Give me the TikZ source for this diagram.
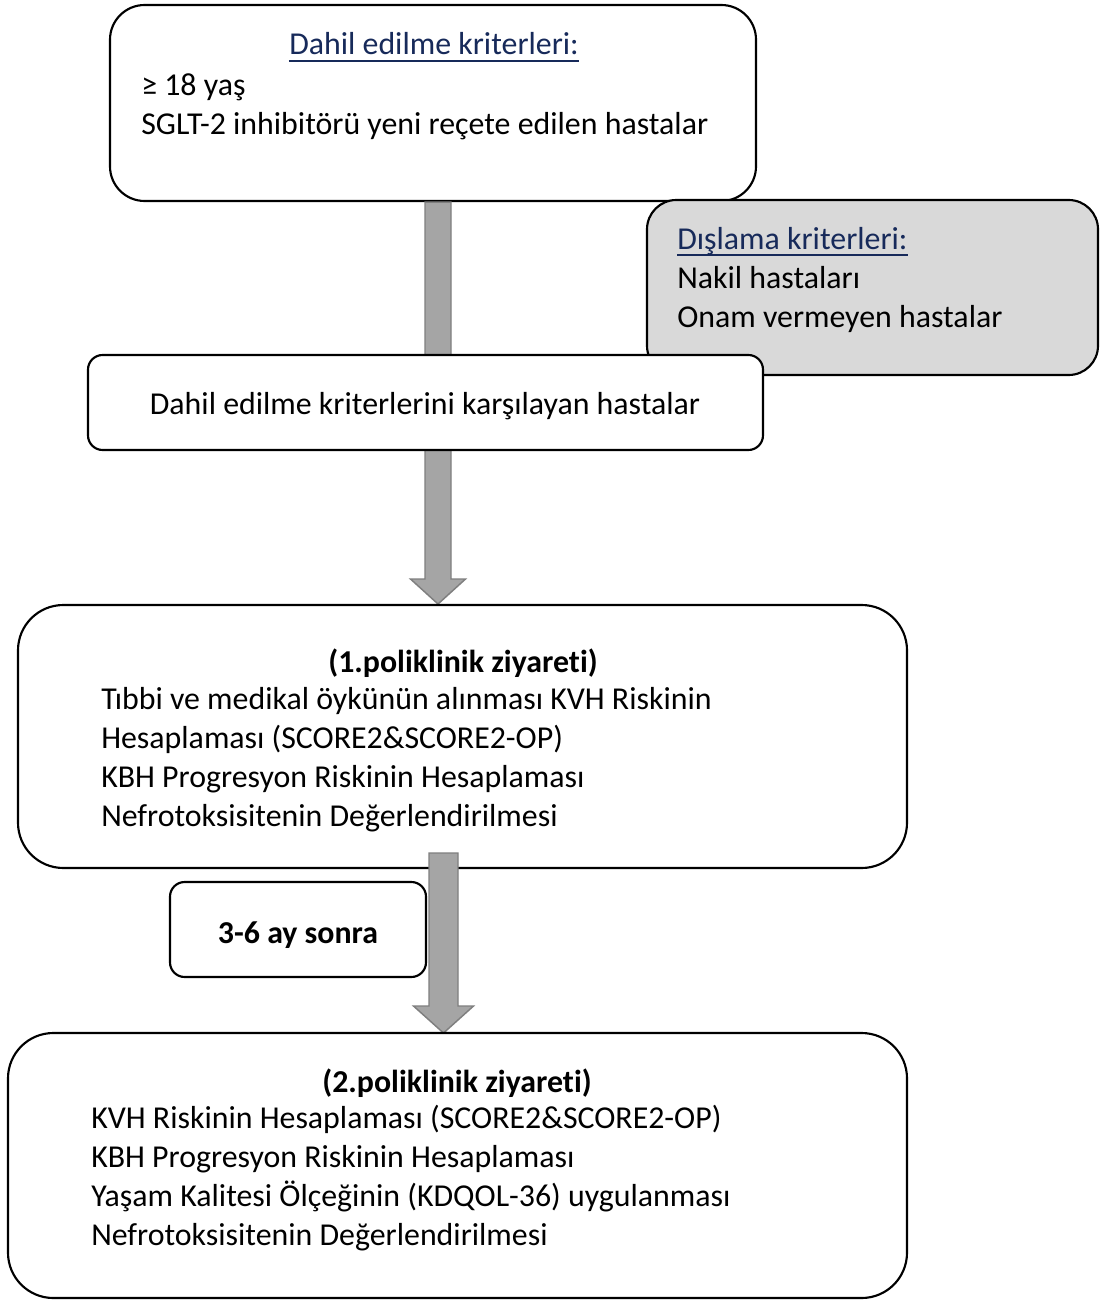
\documentclass[tikz,border=0pt]{standalone}
\usepackage{fontspec}
\setmainfont{Carlito}[Ligatures=NoCommon]
\usetikzlibrary{calc}
\definecolor{navy}{HTML}{172A5A}
\definecolor{arrfill}{HTML}{A5A5A5}
\definecolor{arrline}{HTML}{7F7F7F}
\definecolor{exfill}{HTML}{D9D9D9}
\tikzset{
  box/.style={draw=black, line width=1.6pt, fill=white, inner sep=0pt},
  txt/.style={inner sep=0pt, font=\fontsize{23.9}{29}\selectfont},
  btxt/.style={inner sep=0pt, font=\fontsize{23.9}{29}\selectfont\bfseries},
  ttl/.style={inner sep=0pt, text=navy, font=\fontsize{23.9}{29}\selectfont},
  ul/.style={draw=navy, line width=1.3pt},
  blockarrow/.style={fill=arrfill, draw=arrline, line width=1.1pt, line join=miter}
}
\newcommand\blockarr[5]{%
  \path[blockarrow] ($(#1)+(-#3,0)$) -- ($(#2)+(-#3,-#5)$) -- ($(#2)+(-#4,-#5)$) -- (#2)
    -- ($(#2)+(#4,-#5)$) -- ($(#2)+(#3,-#5)$) -- ($(#1)+(#3,0)$) -- cycle;}
\begin{document}
\begin{tikzpicture}[x=0.75pt, y=-0.75pt]
\useasboundingbox (0,0) rectangle (1101,1302);
\fill[white] (0,0) rectangle (1101,1302);

% top box: inclusion criteria
\node[box, rounded corners=26pt, minimum width=484.5pt, minimum height=147pt] (inc) at (433,103) {};
\node[ttl, anchor=base] (incT) at (434,55) {Dahil edilme kriterleri:};
\draw[ul] ($(incT.base west)+(0,6)$) -- ($(incT.base east)+(0,6)$);
\node[txt, anchor=base west] (inc1) at (141,96) {≥ 18 yaş};
\node[txt, anchor=base west] (inc2) at (141,135) {SGLT-2 inhibitörü yeni reçete edilen hastalar};

% exclusion box
\node[box, fill=exfill, rounded corners=22pt, minimum width=338.25pt, minimum height=131.25pt] (exc) at (872.5,287.5) {};
\node[ttl, anchor=base west] (excT) at (677,249) {Dışlama kriterleri:};
\draw[ul] ($(excT.base west)+(0,6)$) -- ($(excT.base east)+(0,6)$);
\node[txt, anchor=base west] (exc1) at (677,288) {Nakil hastaları};
\node[txt, anchor=base west] (exc2) at (677,327) {Onam vermeyen hastalar};

% arrow 1
\coordinate (a1top) at (inc.south -| 438,0);
\coordinate (a1tip) at (438,604);
\blockarr{a1top}{a1tip}{13}{27.5}{25}

% box 2
\node[box, rounded corners=11pt, minimum width=506.25pt, minimum height=71.25pt] (met) at (425.5,402.5) {};
\node[txt, anchor=base] (metT) at (425,414) {Dahil edilme kriterlerini karşılayan hastalar};

% box 3: first visit
\node[box, rounded corners=34pt, minimum width=666.75pt, minimum height=197.25pt] (v1) at (462.5,736.5) {};
\node[btxt, anchor=base] (v1T) at (463,672) {(1.poliklinik ziyareti)};
\node[txt, anchor=base west] (v1a) at (101,709) {Tıbbi ve medikal öykünün alınması KVH Riskinin};
\node[txt, anchor=base west] (v1b) at (101,748) {Hesaplaması (SCORE2\&SCORE2-OP)};
\node[txt, anchor=base west] (v1c) at (101,787) {KBH Progresyon Riskinin Hesaplaması};
\node[txt, anchor=base west] (v1d) at (101,826) {Nefrotoksisitenin Değerlendirilmesi};

% arrow 2
\coordinate (a2top) at (443.5,853);
\coordinate (a2tip) at (443.5,1033);
\blockarr{a2top}{a2tip}{14.5}{30}{27}

% 3-6 months box
\node[box, rounded corners=11pt, minimum width=192pt, minimum height=71.25pt] (wait) at (298,929.5) {};
\node[btxt, anchor=base] (waitT) at (298,943) {3-6 ay sonra};

% box 4: second visit
\node[box, rounded corners=34pt, minimum width=674.25pt, minimum height=198.75pt] (v2) at (457.5,1165.5) {};
\node[btxt, anchor=base] (v2T) at (457,1092) {(2.poliklinik ziyareti)};
\node[txt, anchor=base west] (v2a) at (91,1128) {KVH Riskinin Hesaplaması (SCORE2\&SCORE2-OP)};
\node[txt, anchor=base west] (v2b) at (91,1167) {KBH Progresyon Riskinin Hesaplaması};
\node[txt, anchor=base west] (v2c) at (91,1206) {Yaşam Kalitesi Ölçeğinin (KDQOL-36) uygulanması};
\node[txt, anchor=base west] (v2d) at (91,1245) {Nefrotoksisitenin Değerlendirilmesi};
\end{tikzpicture}
\end{document}
